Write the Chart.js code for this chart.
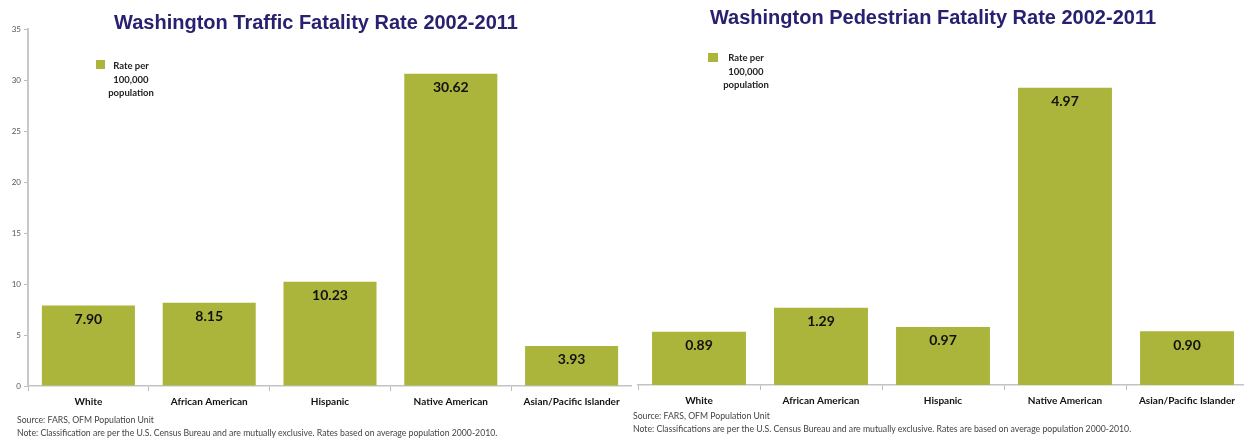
<!DOCTYPE html>
<html>
<head>
<meta charset="utf-8">
<script src="https://cdn.jsdelivr.net/npm/chart.js@4.4.1/dist/chart.umd.min.js"></script>
<style>
  html, body { margin: 0; padding: 0; background: #fff; overflow: hidden; }
  #wrap { position: relative; width: 1244px; height: 441px; overflow: hidden; background: #fff; }
  .box { position: absolute; top: 0; height: 441px; }
  .title { position: absolute; font-family: "Liberation Sans", sans-serif; font-weight: bold; font-size: 20px; color: #28216f; text-align: center; white-space: nowrap; line-height: 24px; }
  .leg { position: absolute; font-family: Lato, sans-serif; font-weight: bold; font-size: 9.5px; color: #222; text-align: center; line-height: 13.5px; }
  .swatch { position: absolute; width: 9px; height: 9px; background: #abb53b; }
  .note { position: absolute; font-family: Lato, sans-serif; font-size: 8.7px; color: #444; white-space: nowrap; line-height: 13px; }
</style>
</head>
<body>
<div id="wrap">
  <div class="box" style="left:0;width:632px"><canvas id="traffic"></canvas></div>
  <div class="box" style="left:630px;width:618px"><canvas id="pedestrian"></canvas></div>

  <div class="title" style="left:16px;width:600px;top:10px">Washington Traffic Fatality Rate 2002-2011</div>
  <div class="title" style="left:633px;width:600px;top:5px">Washington Pedestrian Fatality Rate 2002-2011</div>

  <div class="swatch" style="left:96px;top:60px"></div>
  <div class="leg" style="left:101px;width:60px;top:59px">Rate per<br>100,000<br>population</div>
  <div class="swatch" style="left:708px;top:53px;width:10px"></div>
  <div class="leg" style="left:716px;width:60px;top:51px">Rate per<br>100,000<br>population</div>

  <div class="note" style="left:17px;top:413px">Source: FARS, OFM Population Unit<br>Note: Classification are per the U.S. Census Bureau and are mutually exclusive. Rates based on average population 2000-2010.</div>
  <div class="note" style="left:633px;top:409px">Source: FARS, OFM Population Unit<br>Note: Classifications are per the U.S. Census Bureau and are mutually exclusive. Rates are based on average population 2000-2010.</div>
</div>

<script>
// categories and rates (per 100,000 population)
let categories = ['White', 'African American', 'Hispanic', 'Native American', 'Asian/Pacific Islander'];
let trafficRates = [7.90, 8.15, 10.23, 30.62, 3.93];
let pedestrianRates = [0.89, 1.29, 0.97, 4.97, 0.90];
let trafficTicks = [0, 5, 10, 15, 20, 25, 30, 35];

let barColor = '#abb53b';

// value labels just inside the top of each bar
let valueLabels = {
  id: 'valueLabels',
  afterDatasetsDraw(chart) {
    let ctx = chart.ctx;
    let ds = chart.data.datasets[0];
    chart.getDatasetMeta(0).data.forEach((bar, i) => {
      ctx.save();
      ctx.font = 'bold 14px Lato, sans-serif';
      ctx.fillStyle = '#111';
      ctx.textAlign = 'center';
      ctx.textBaseline = 'middle';
      ctx.fillText(ds.data[i].toFixed(2), bar.x, bar.y + 14);
      ctx.restore();
    });
  }
};

function makeChart(id, values, yMax, showY, padLeft, padTop, xHeight) {
  return new Chart(document.getElementById(id), {
    type: 'bar',
    data: {
      labels: categories,
      datasets: [{
        label: 'Rate per 100,000 population',
        data: values,
        backgroundColor: barColor,
        borderWidth: 0,
        barPercentage: 0.77,
        categoryPercentage: 1.0
      }]
    },
    options: {
      responsive: true,
      maintainAspectRatio: false,
      animation: false,
      layout: { padding: { left: padLeft, top: padTop, right: 0, bottom: 0 } },
      plugins: {
        legend: { display: false },
        title: { display: false },
        tooltip: { enabled: false }
      },
      scales: {
        x: {
          grid: { drawOnChartArea: false, tickLength: 5, color: '#bbb', offset: true },
          border: { color: '#c4c4c4', width: 1.5 },
          ticks: {
            font: { family: 'Lato', weight: 'bold', size: 10 },
            color: '#111',
            padding: 5,
            maxRotation: 0,
            autoSkip: false
          },
          afterFit(scale) { scale.height = xHeight; }
        },
        y: {
          display: showY,
          min: 0,
          max: yMax,
          afterBuildTicks(scale) {
            if (showY) scale.ticks = trafficTicks.map(v => ({ value: v }));
          },
          grid: { drawOnChartArea: false, tickLength: 4, color: '#bbb' },
          border: { color: '#c8c8c8', width: 2 },
          ticks: {
            font: { family: 'Lato', size: 8 },
            color: '#555',
            padding: 3
          },
          afterFit(scale) { scale.width = showY ? 28 : 0; }
        }
      }
    },
    plugins: [valueLabels]
  });
}

makeChart('traffic', trafficRates, 35, true, 0, 29, 55);
makeChart('pedestrian', pedestrianRates, 6, false, 8, 26, 56);
</script>
</body>
</html>
